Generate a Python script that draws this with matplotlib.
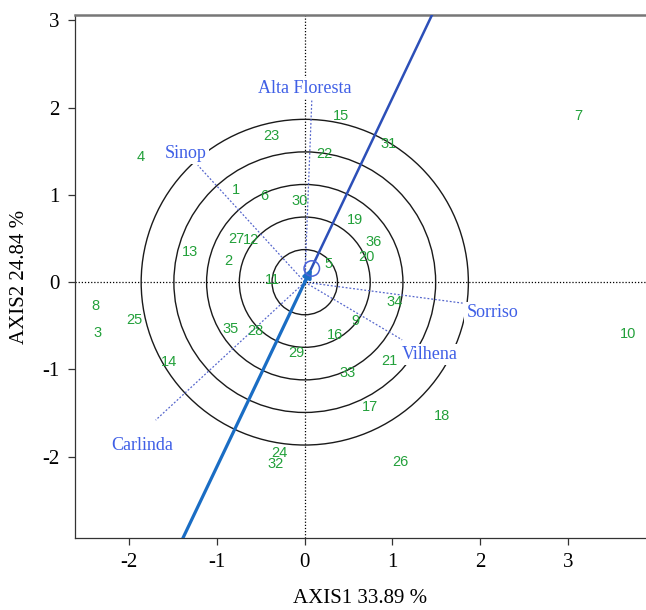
import numpy as np
import matplotlib
matplotlib.use("Agg")
import matplotlib.pyplot as plt
from matplotlib.patches import Circle

plt.rcParams["axes.unicode_minus"] = False

# genotype scores (axis1, axis2)
gen_ids = [str(i) for i in range(1, 37)]
gen_x = [-0.79, -0.87, -2.36, -1.87, 0.27, -0.46, 3.12, -2.39, 0.58, 3.69,
         -0.37, -0.61, -1.31, -1.55, 0.41, 0.35, 0.74, 1.56, 0.57, 0.70,
         0.96, 0.22, -0.38, -0.29, -1.94, 1.09, -0.78, -0.56, -0.10, -0.06,
         0.95, -0.33, 0.49, 1.02, -0.84, 0.78]
gen_y = [1.05, 0.24, -0.58, 1.43, 0.21, 0.99, 1.90, -0.27, -0.45, -0.59,
         0.03, 0.48, 0.34, -0.91, 1.90, -0.61, -1.43, -1.53, 0.71, 0.29,
         -0.90, 1.47, 1.67, -1.96, -0.43, -2.06, 0.50, -0.56, -0.81, 0.93,
         1.58, -2.08, -1.04, -0.23, -0.54, 0.46]

# environment vectors and label positions
env_names = ["Alta Floresta", "Sinop", "Sorriso", "Vilhena", "Carlinda"]
env_x = [0.08, -1.22, 1.80, 1.11, -1.70]
env_y = [2.08, 1.34, -0.24, -0.66, -1.58]
env_lab_x = [0.00, -1.36, 2.14, 1.43, -1.85]
env_lab_y = [2.22, 1.47, -0.35, -0.83, -1.87]

# average environment axis
aea_slope = 2.11
aea_point = (0.08, 0.157)
ring_step = 0.373
n_rings = 5

green = "#22a03a"
env_blue = "#3f5fe6"

fig = plt.figure(figsize=(6.46, 6.10), dpi=100)
ax = fig.add_axes([0.116, 0.118, 0.884, 0.857])
xlim = (-2.62, 3.89)
ylim = (-2.93, 3.057)
ax.set_xlim(*xlim)
ax.set_ylim(*ylim)

# dotted axes through origin
ax.axhline(0, color="black", ls=(0, (1, 1.5)), lw=0.9, zorder=1)
ax.axvline(0, color="black", ls=(0, (1, 1.5)), lw=0.9, zorder=1)

# concentric rings
for k in range(1, n_rings + 1):
    ax.add_patch(Circle((0, 0), ring_step * k, fill=False, ec="#1a1a1a", lw=1.0, zorder=2))

# environment vectors
for ex, ey in zip(env_x, env_y):
    ax.plot([0, ex], [0, ey], color="#5566cc", ls=(0, (1.5, 1.5)), lw=0.9, zorder=3)

# AEA line: upper part and lower part
y_top = ylim[1]
y_bot = ylim[0]
ax.plot([0, y_top / aea_slope], [0, y_top], color="#2c4fb8", lw=1.8, zorder=4)
ax.plot([0, y_bot / aea_slope], [0, y_bot], color="#1a6dc4", lw=2.3, zorder=4)
ax.annotate("", xy=aea_point, xytext=(0, 0),
            arrowprops=dict(arrowstyle="-|>", color="#1a6dc4", lw=2.5,
                            mutation_scale=12, shrinkA=0, shrinkB=0), zorder=5)
ax.add_patch(Circle(aea_point, 0.088, fill=False, ec="#4a62d8", lw=1.1, zorder=5))

# genotype labels
for gid, gx, gy in zip(gen_ids, gen_x, gen_y):
    ax.text(gx, gy, gid, color=green, fontsize=10.5, family="Liberation Sans",
            ha="center", va="center", zorder=6)

# environment labels
for name, lx, ly in zip(env_names, env_lab_x, env_lab_y):
    ax.text(lx, ly, name, color=env_blue, fontsize=13, family="Liberation Serif",
            ha="center", va="center", zorder=7,
            bbox=dict(facecolor="white", edgecolor="none", pad=1.5))

ax.set_xticks([-2, -1, 0, 1, 2, 3])
ax.set_yticks([-2, -1, 0, 1, 2, 3])
ax.tick_params(direction="out", length=5, width=0.9, color="#333333", labelsize=15, pad=6)
for lab in ax.get_xticklabels() + ax.get_yticklabels():
    lab.set_family("Liberation Serif")

ax.set_xlabel("AXIS1 33.89 %", family="Liberation Serif", fontsize=15, labelpad=12)
ax.set_ylabel("AXIS2 24.84 %", family="Liberation Serif", fontsize=15, labelpad=10)

for side in ["left", "bottom"]:
    ax.spines[side].set_color("#333333")
    ax.spines[side].set_linewidth(0.9)
ax.spines["top"].set_color("#777777")
ax.spines["top"].set_linewidth(1.8)
ax.spines["right"].set_visible(False)

fig.savefig("out.png", dpi=100)
